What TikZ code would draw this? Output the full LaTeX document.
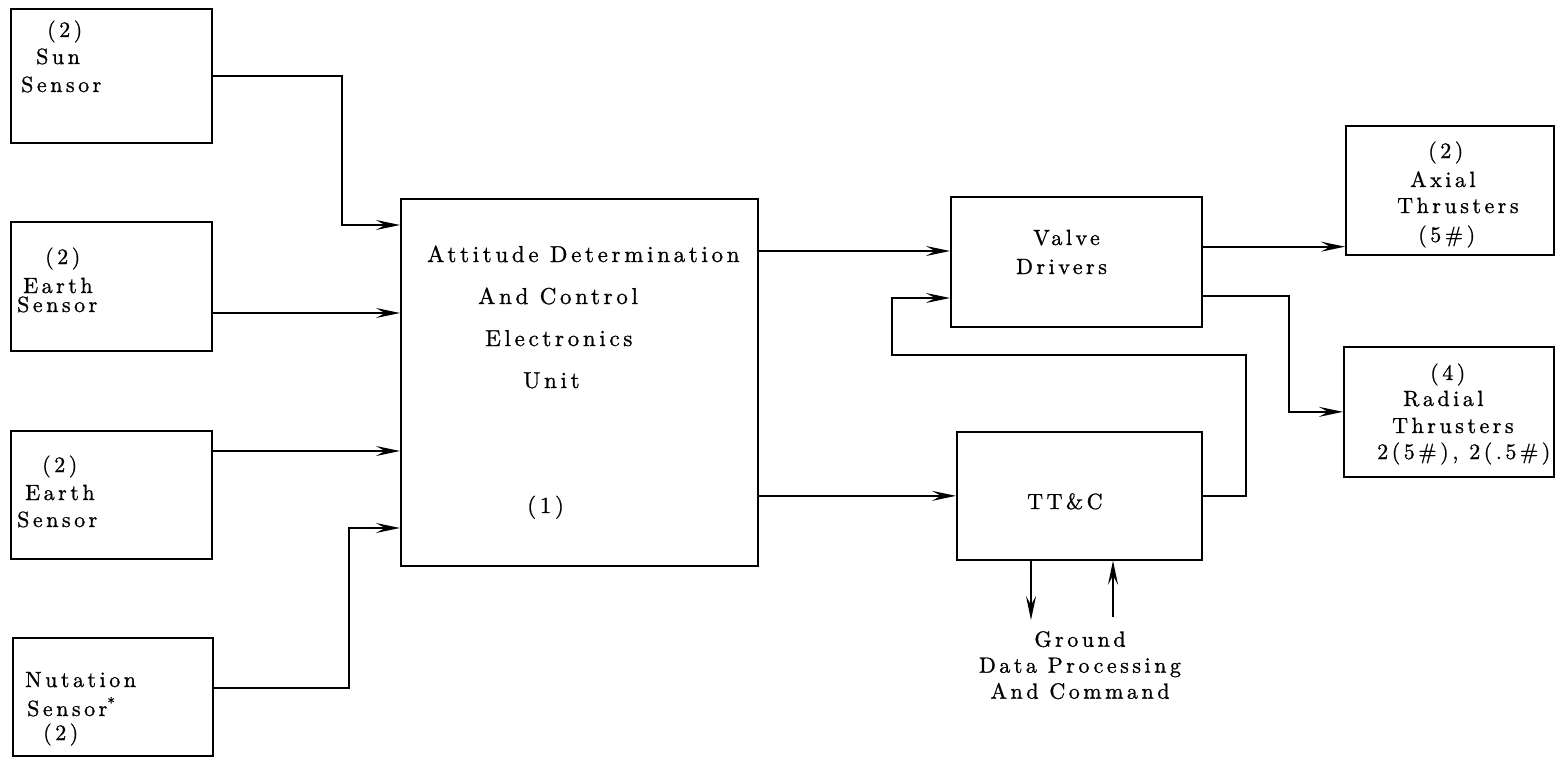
\documentclass[tikz,border=0pt]{standalone}
\usepackage{fontspec}
\setmainfont[LetterSpace=16,FakeBold=1]{lmroman10-regular.otf}
\usetikzlibrary{arrows.meta}
\begin{document}
\begin{tikzpicture}[x=1pt,y=-1pt,
  box/.style={draw, line width=1.7pt, inner sep=0pt, anchor=north west},
  lbl/.style={anchor=base west, inner sep=0pt, font=\fontsize{22}{26}\selectfont},
  big/.style={anchor=base west, inner sep=0pt, font=\fontsize{23}{27}\selectfont},
  wire/.style={line width=1.7pt},
  arr/.style={wire, -{Stealth[length=24pt,width=10pt,inset=9pt]}},
]
\useasboundingbox (0,0) rectangle (1560,768);

% boxes
\node[box, minimum width=201pt, minimum height=134pt] (sun) at (10,8) {};
\node[box, minimum width=201pt, minimum height=129pt] (earth1) at (10,221) {};
\node[box, minimum width=201pt, minimum height=128pt] (earth2) at (10,430) {};
\node[box, minimum width=200pt, minimum height=118pt] (nut) at (12,637) {};
\node[box, minimum width=357pt, minimum height=367pt] (adce) at (400,198) {};
\node[box, minimum width=251pt, minimum height=130pt] (valve) at (950,196) {};
\node[box, minimum width=245pt, minimum height=128pt] (tt) at (956,431) {};
\node[box, minimum width=208pt, minimum height=129pt] (axial) at (1345,125) {};
\node[box, minimum width=210pt, minimum height=130pt] (radial) at (1343,346) {};

% texts
\node[lbl] (s1) at (47,37) {(2)};
\node[lbl] (s2) at (36,64) {Sun};
\node[lbl] (s3) at (21,92) {Sensor};
\node[lbl] (e11) at (45,264) {(2)};
\node[lbl] (e12) at (23,293) {Earth};
\node[lbl] (e13) at (17,312) {Sensor};
\node[lbl] (e21) at (42,472) {(2)};
\node[lbl] (e22) at (25,500) {Earth};
\node[lbl] (e23) at (17,527) {Sensor};
\node[lbl] (n1) at (25,687) {Nutation};
\node[lbl] (n2) at (27,716) {Sensor\textsuperscript{*}};
\node[lbl] (n3) at (43,740) {(2)};
\node[big] (d1) at (427,262) {Attitude Determination};
\node[big] (d2) at (478,304) {And Control};
\node[big] (d3) at (485,346) {Electronics};
\node[big] (d4) at (523,388) {Unit};
\node[big] (d5) at (527,513) {(1)};
\node[lbl] (v1t) at (1033,245) {Valve};
\node[lbl] (v2t) at (1016,274) {Drivers};
\node[lbl] (ttt) at (1027,509) {TT\&C};
\node[lbl] (x1) at (1428,158) {(2)};
\node[lbl] (x2) at (1410,187) {Axial};
\node[lbl] (x3) at (1397,213) {Thrusters};
\node[lbl] (x4) at (1418,242) {(5\#)};
\node[lbl] (r1) at (1430,380) {(4)};
\node[lbl] (r2) at (1403,406) {Radial};
\node[lbl] (r3) at (1392,433) {Thrusters};
\node[lbl] (r4) at (1377,459) {2(5\#), 2(.5\#)};
\node[anchor=north, inner sep=0pt, align=center, font=\fontsize{22}{26}\selectfont] (ground) at (1080,631) {Ground\\Data Processing\\And Command};

% anchor coordinates
\coordinate (a1) at ([yshift=-27pt]adce.north west);
\coordinate (a2) at ([yshift=-115pt]adce.north west);
\coordinate (a3) at ([yshift=-253pt]adce.north west);
\coordinate (a4) at ([yshift=-330pt]adce.north west);
\coordinate (o1) at ([yshift=-53pt]adce.north east);
\coordinate (vin2) at ([yshift=-102pt]valve.north west);
\coordinate (ax) at ([yshift=9pt]axial.south west);
\coordinate (gd) at (1031,620);
\coordinate (gu) at (1113,617);

% connectors
\draw[arr] (sun.east) -- ++(129,0) |- (a1);
\draw[arr] (earth1.east |- a2) -- (a2);
\draw[arr] (earth2.east |- a3) -- (a3);
\draw[arr] ([yshift=9pt]nut.east) -- ++(135,0) |- (a4);
\draw[arr] (o1) -- (valve.west |- o1);
\draw[arr] (adce.east |- tt.west) -- (tt.west);
\draw[arr] (tt.east) -- ++(43,0) |- ([xshift=-58pt,yshift=-27pt]valve.south west) |- (vin2);
\draw[arr] (valve.east |- ax) -- (ax);
\draw[arr] ([yshift=-100pt]valve.north east) -- ++(86,0) |- (radial.west);
\draw[arr] (tt.south -| gd) -- (gd);
\draw[arr] (gu) -- (tt.south -| gu);
\end{tikzpicture}
\end{document}
